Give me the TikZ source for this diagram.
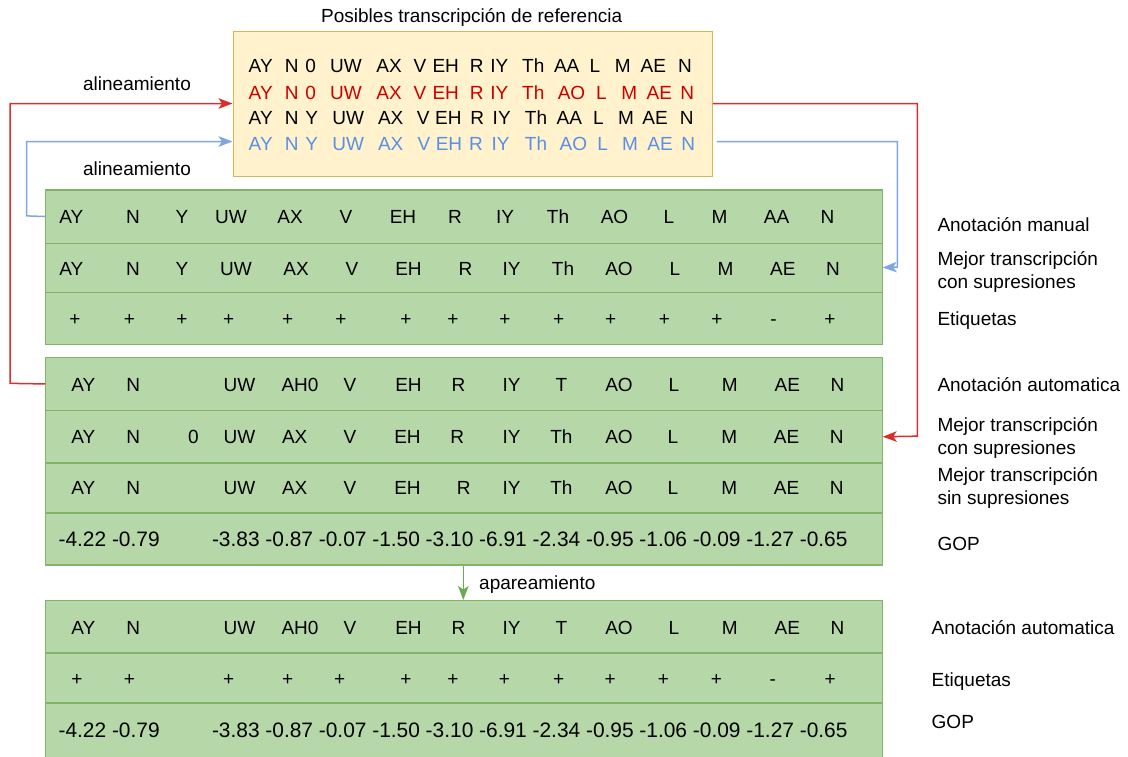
\documentclass[tikz,border=0pt]{standalone}
\usepackage{fontspec}
\setmainfont{Liberation Sans}
\usetikzlibrary{arrows.meta,calc}
\definecolor{rowfill}{HTML}{B6D7A8}
\definecolor{rowline}{HTML}{82B366}
\definecolor{refill}{HTML}{FFF2CC}
\definecolor{refline}{HTML}{D6B656}
\definecolor{linkred}{HTML}{DD2C2C}
\definecolor{txtred}{HTML}{CC0000}
\definecolor{linkblue}{HTML}{7EA6E0}
\definecolor{txtblue}{HTML}{5A8FE6}
\definecolor{linkgreen}{HTML}{6AAB4F}
\begin{document}
\begin{tikzpicture}[x=1pt,y=-1pt,
  txt/.style={font=\fontsize{19}{23}\selectfont, inner sep=0pt, anchor=base},
  lbl/.style={txt, anchor=base west},
  gop/.style={font=\fontsize{20.9}{24}\selectfont, inner sep=0pt, anchor=base west},
  row/.style={draw=rowline, fill=rowfill, line width=1.2pt, anchor=north west,
              minimum width=836.5pt, inner sep=0pt},
  link/.style={line width=1.5pt, -{Stealth[length=14pt,width=10.5pt,inset=3.5pt]}},
]
\useasboundingbox (0,0) rectangle (1128,756);
\clip (0,0) rectangle (1128,756);

% reference transcriptions
\node[txt] (title) at (471.7,22) {Posibles transcripción de referencia};
\node[draw=refline, fill=refill, line width=1.3pt, anchor=north west,
      minimum width=479pt, minimum height=145pt] (ref) at (232.5,31) {};

\foreach \x/\t [count=\i] in {260.7/AY,291.7/N,310.7/0,346/UW,389/AX,420/V,445.7/EH,476.7/R,
    499.3/IY,533.3/Th,566.7/AA,595/L,622.7/M,653.3/AE,685/N}
  \node[txt] (ya\i) at (\x,72.7) {\t};
\foreach \x/\t [count=\i] in {260.7/AY,291.7/N,310.7/0,346/UW,389/AX,420/V,445.7/EH,476.7/R,
    499.3/IY,533.3/Th,571.5/AO,601.5/L,629.3/M,659.3/AE,687.3/N}
  \node[txt, text=txtred] (yb\i) at (\x,99.3) {\t};
\foreach \x/\t [count=\i] in {260.7/AY,291.7/N,311.7/Y,348.3/UW,390.7/AX,423.3/V,448.3/EH,477.3/R,
    501.7/IY,536/Th,569.3/AA,598.3/L,626/M,655/AE,686.7/N}
  \node[txt] (yc\i) at (\x,124.3) {\t};
\foreach \x/\t [count=\i] in {260.7/AY,291.7/N,311.7/Y,348.3/UW,390.7/AX,424/V,449/EH,476/R,
    500.5/IY,536/Th,573.3/AO,602.7/L,630/M,660/AE,688.3/N}
  \node[txt, text=txtblue] (yd\i) at (\x,150) {\t};

% first table: manual annotation
\node[row, minimum height=53.2pt] (m1) at (45,189.3) {};
\node[row, minimum height=49pt] (m2) at (45,242.5) {};
\node[row, minimum height=52.5pt] (m3) at (45,291.5) {};
\foreach \x/\t [count=\i] in {71.4/AY,133/N,182/Y,231/UW,290/AX,346/V,403/EH,455/R,505/IY,
    558/Th,614.5/AO,669/L,719.5/M,776.5/AA,827.5/N}
  \node[txt] (ma\i) at (\x,223.5) {\t};
\foreach \x/\t [count=\i] in {71.4/AY,133/N,182/Y,236/UW,296/AX,352/V,408.5/EH,465.5/R,511.5/IY,
    563/Th,619/AO,675/L,725.6/M,782.8/AE,833/N}
  \node[txt] (mb\i) at (\x,275) {\t};
\foreach \x/\t [count=\i] in {75/+,129.4/+,182/+,228.6/+,287.7/+,340.8/+,405.9/+,453/+,505/+,
    558.7/+,610.7/+,664.4/+,717/+,773.5/-,830/+}
  \node[txt] (mc\i) at (\x,325) {\t};

% second table: automatic annotation
\node[row, minimum height=53.3pt] (a1) at (45,356.7) {};
\node[row, minimum height=52.3pt] (a2) at (45,410) {};
\node[row, minimum height=50pt] (a3) at (45,462.3) {};
\node[row, minimum height=52pt] (a4) at (45,512.3) {};
\foreach \x/\t [count=\i] in {83.4/AY,133.2/N,239.5/UW,300/AH0,350/V,408.5/EH,458.4/R,511.5/IY,
    561.4/T,619/AO,674/L,729.7/M,787.3/AE,837.5/N}
  \node[txt] (aa\i) at (\x,391.8) {\t};
\foreach \x/\t [count=\i] in {83.4/AY,133.2/N,193.4/0,239.5/UW,294.7/AX,350/V,407.5/EH,457.3/R,
    511.5/IY,561.4/Th,619/AO,673/L,729.2/M,786.6/AE,836.7/N}
  \node[txt] (ab\i) at (\x,443.5) {\t};
\foreach \x/\t [count=\i] in {83.4/AY,133.2/N,239.5/UW,294.7/AX,350/V,407.5/EH,463.8/R,
    511.5/IY,561.4/Th,619/AO,673/L,729.2/M,786.6/AE,836.7/N}
  \node[txt] (ac\i) at (\x,494.5) {\t};
\node[gop] (ad1) at (58.4,546.5) {-4.22 -0.79};
\node[gop] (ad2) at (211.8,546.5)
  {-3.83 -0.87 -0.07 -1.50 -3.10 -6.91 -2.34 -0.95 -1.06 -0.09 -1.27 -0.65};

% third table: matched result
\node[row, minimum height=52.3pt] (c1) at (45,600) {};
\node[row, minimum height=50pt] (c2) at (45,652.3) {};
\node[row, minimum height=60pt] (c3) at (45,702.3) {};
\foreach \x/\t [count=\i] in {83.4/AY,133.2/N,239.5/UW,300/AH0,350/V,408.5/EH,458.4/R,511.5/IY,
    561.4/T,619/AO,674/L,729.7/M,787.3/AE,837.5/N}
  \node[txt] (ca\i) at (\x,634.5) {\t};
\foreach \x/\t [count=\i] in {76.9/+,129.4/+,228.6/+,287.7/+,339.7/+,405.9/+,453/+,504.5/+,
    558.7/+,610.2/+,663.3/+,716.4/+,772.8/-,830.2/+}
  \node[txt] (cb\i) at (\x,685.8) {\t};
\node[gop] (cc1) at (58.4,737.5) {-4.22 -0.79};
\node[gop] (cc2) at (211.8,737.5)
  {-3.83 -0.87 -0.07 -1.50 -3.10 -6.91 -2.34 -0.95 -1.06 -0.09 -1.27 -0.65};

% row captions
\node[lbl] (l1) at (937.3,231.7) {Anotación manual};
\node[lbl] (l2) at (937.3,265) {\begin{tabular}[t]{@{}l@{}}Mejor transcripción\\con supresiones\end{tabular}};
\node[lbl] (l3) at (937.3,325.3) {Etiquetas};
\node[lbl] (l4) at (937.3,391) {Anotación automatica};
\node[lbl] (l5) at (937.3,431.7) {\begin{tabular}[t]{@{}l@{}}Mejor transcripción\\con supresiones\end{tabular}};
\node[lbl] (l6) at (937.3,481.7) {\begin{tabular}[t]{@{}l@{}}Mejor transcripción\\sin supresiones\end{tabular}};
\node[lbl] (l7) at (937.3,550) {GOP};
\node[lbl] (l8) at (931.5,634) {Anotación automatica};
\node[lbl] (l9) at (931.5,686) {Etiquetas};
\node[lbl] (l10) at (931.5,728.3) {GOP};

% alignment connectors
\draw[link, linkred] (a1.west) -- (10,383.35) -- (10,103.5) -- (ref.west |- 0,103.5);
\draw[link, linkred] (ref.east |- 0,103.5) -- (917.3,103.5) -- (917.3,436.15) -- (a2.east);
\draw[link, linkblue] (m1.west) -- (26.7,215.9) -- (26.7,141.5) -- (ref.west |- 0,141.5);
\draw[link, linkblue] ($(ref.east |- 0,141.5)+(4,0)$) -- (897.3,141.5) -- (897.3,267) -- (m2.east);
\node[txt] (al1) at (137,90) {alineamiento};
\node[txt] (al2) at (137,175) {alineamiento};

% matching step
\draw[link, linkgreen] (a4.south -| 463.3,0) -- (c1.north -| 463.3,0);
\node[lbl] (ap) at (479,589) {apareamiento};
\end{tikzpicture}
\end{document}
